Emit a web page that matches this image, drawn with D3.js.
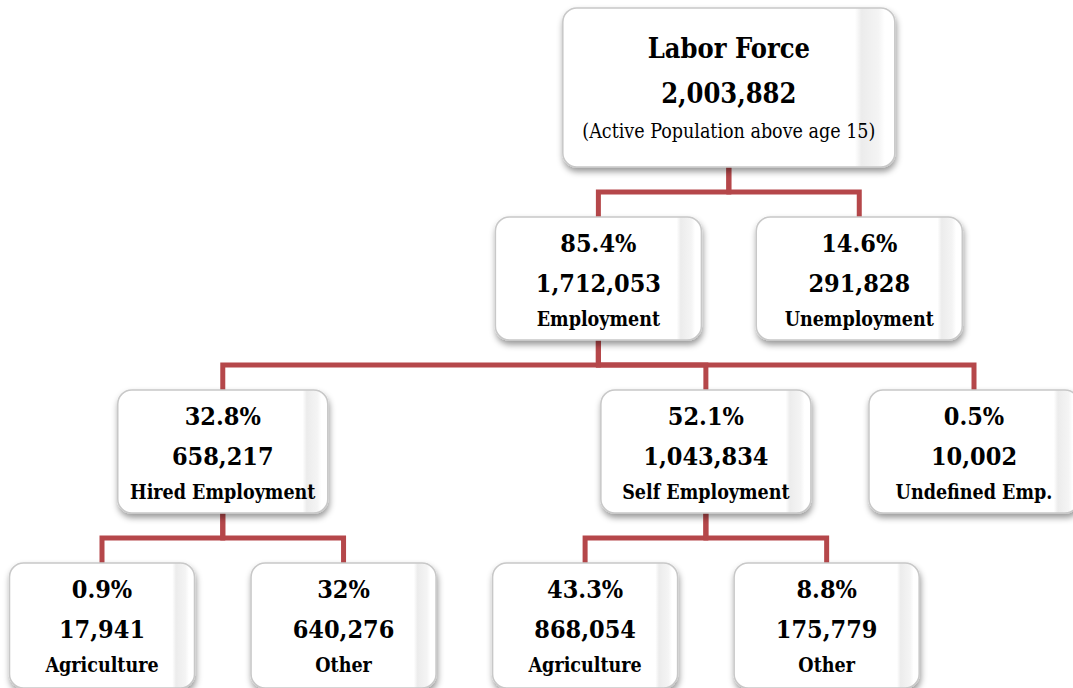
<!DOCTYPE html>
<html lang="en">
<head>
  <meta charset="UTF-8" />
  <title>Labor Force breakdown</title>
  <script src="https://d3js.org/d3.v7.min.js"></script>
  <style>
    body { margin: 0; background: #fff; }
    svg { display: block; }
    .box-text { font-family: "DejaVu Serif Condensed", "DejaVu Serif", serif; font-stretch: condensed; fill: #000; }
  </style>
</head>
<body>
<svg width="1073" height="688"></svg>
<script>
  // Data
  const ids      = ["lf", "emp", "unemp", "hired", "self", "undef", "hiredAgri", "hiredOther", "selfAgri", "selfOther"];
  const parents  = [null, "lf", "lf", "emp", "emp", "emp", "hired", "hired", "self", "self"];
  const labels   = ["Labor Force", "Employment", "Unemployment", "Hired Employment", "Self Employment",
                    "Undefined Emp.", "Agriculture", "Other", "Agriculture", "Other"];
  const shares   = [null, 85.4, 14.6, 32.8, 52.1, 0.5, 0.9, 32, 43.3, 8.8];
  const counts   = [2003882, 1712053, 291828, 658217, 1043834, 10002, 17941, 640276, 868054, 175779];
  const rootNote = "(Active Population above age 15)";

  const svg = d3.select("svg"),
        W = +svg.attr("width"),
        margin = {left: 102, right: 99, top: 8};

  const boxW = [332, 206, 210, 185],
        boxH = [159, 123, 123, 125],
        gap = 50,
        linkColor = "#b5474a";

  const rows = ids.map((id, i) => ({id, parent: parents[i], label: labels[i], share: shares[i], count: counts[i]}));
  const root = d3.stratify().id(d => d.id).parentId(d => d.parent)(rows);

  // tree layout: a leaf next to a branch gets a bit more room
  const leafGap = [1, 1.08, 1.11, 1];
  d3.tree()
    .nodeSize([1, 1])
    .separation((a, b) => (!!a.children === !!b.children) ? 1 : leafGap[a.depth])(root);

  const nodes = root.descendants();
  const x = d3.scaleLinear()
              .domain(d3.extent(nodes, d => d.x))
              .range([margin.left, W - margin.right]);

  // top of each level
  const levelTop = [margin.top];
  for (let i = 1; i < boxH.length; i++) levelTop[i] = levelTop[i - 1] + boxH[i - 1] + gap;

  const defs = svg.append("defs");
  const shadow = defs.append("filter").attr("id", "shadow")
                     .attr("x", "-10%").attr("y", "-10%").attr("width", "125%").attr("height", "130%");
  shadow.append("feDropShadow").attr("dx", 1).attr("dy", 4).attr("stdDeviation", 3)
        .attr("flood-color", "#000").attr("flood-opacity", 0.4);

  const grad = defs.append("linearGradient").attr("id", "bevel").attr("x1", 0).attr("x2", 1).attr("y1", 0).attr("y2", 0);
  [[0, "#ffffff"], [0.88, "#ffffff"], [0.9, "#ececec"], [0.95, "#f4f4f4"], [0.97, "#ffffff"], [1, "#ffffff"]]
    .forEach(([o, c]) => grad.append("stop").attr("offset", o).attr("stop-color", c));

  // links
  svg.append("g")
     .selectAll("path")
     .data(root.links())
     .join("path")
     .attr("fill", "none")
     .attr("stroke", linkColor)
     .attr("stroke-width", 5)
     .attr("d", l => {
       const d0 = l.source.depth;
       const y0 = levelTop[d0] + boxH[d0],
             y1 = levelTop[l.target.depth],
             ym = y0 + gap / 2;
       return `M${x(l.source.x)},${y0}V${ym}H${x(l.target.x)}V${y1}`;
     });

  // boxes
  const node = svg.append("g")
                  .selectAll("g")
                  .data(nodes)
                  .join("g")
                  .attr("transform", d => `translate(${x(d.x) - boxW[d.depth] / 2},${levelTop[d.depth]})`);

  node.append("rect")
      .attr("width", d => boxW[d.depth])
      .attr("height", d => boxH[d.depth])
      .attr("rx", 14)
      .attr("fill", "url(#bevel)")
      .attr("stroke", "#c8c8c8")
      .attr("stroke-width", 1.5)
      .attr("filter", "url(#shadow)");

  const fmt = d3.format(",");

  node.each(function(d) {
    const g = d3.select(this), w = boxW[d.depth];
    let lines;
    if (d.depth === 0) {
      lines = [
        {t: d.data.label, y: 40, size: 27, weight: "bold"},
        {t: fmt(d.data.count), y: 85, size: 27, weight: "bold"},
        {t: rootNote, y: 123, size: 19.5, weight: "normal"}
      ];
    } else {
      lines = [
        {t: d.data.share + "%", y: 26, size: 25, weight: "bold"},
        {t: fmt(d.data.count), y: 66, size: 25, weight: "bold"},
        {t: d.data.label, y: 102, size: 19.5, weight: "bold"}
      ];
    }
    g.selectAll("text")
     .data(lines)
     .join("text")
     .attr("class", "box-text")
     .attr("x", w / 2)
     .attr("y", l => l.y)
     .attr("text-anchor", "middle")
     .attr("dominant-baseline", "central")
     .attr("font-size", l => l.size)
     .attr("font-weight", l => l.weight)
     .text(l => l.t);
  });
</script>
</body>
</html>
